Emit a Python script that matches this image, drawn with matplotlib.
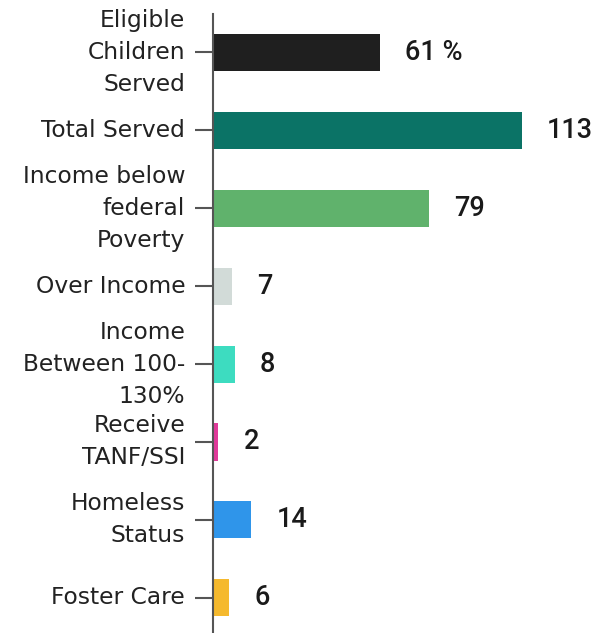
import matplotlib
matplotlib.use("Agg")
import matplotlib.pyplot as plt

categories = ["Eligible\nChildren\nServed", "Total Served", "Income below\nfederal\nPoverty",
              "Over Income", "Income\nBetween 100-\n130%", "Receive\nTANF/SSI",
              "Homeless\nStatus", "Foster Care"]
values = [61, 113, 79, 7, 8, 2, 14, 6]
value_labels = ["61 %", "113", "79", "7", "8", "2", "14", "6"]
colors = ["#1f1f1f", "#0b7366", "#60b26c", "#d2dbd8", "#3ddcc0", "#e03a9a", "#2f95ea", "#f5b92e"]

fig = plt.figure(figsize=(6.05, 6.33), dpi=100)
ax = fig.add_axes([213/605, 0, 1 - 213/605, 1 - 14/633])
ypos = list(range(len(categories)))
ax.barh(ypos, values, height=0.475, color=colors)
ax.set_ylim(7.45, -0.49)
ax.set_xlim(0, (605-213)/2.735)
ax.set_yticks(ypos)
ax.set_yticklabels(categories, fontsize=16.8, color="#222222", family=["DejaVu Sans"],
                   linespacing=1.5)
for t in ax.get_yticklabels():
    t.set_horizontalalignment("right")
    t.set_verticalalignment("center")
ax.tick_params(axis="y", length=13, width=1.5, color="#555555", pad=7)
ax.set_xticks([])
for s in ["top", "right", "bottom"]:
    ax.spines[s].set_visible(False)
ax.spines["left"].set_color("#555555")
ax.spines["left"].set_linewidth(1.5)
for y, v, lab in zip(ypos, values, value_labels):
    ax.annotate(lab, (v, y), xytext=(25, 0), textcoords="offset pixels",
                va="center", ha="left", fontsize=19.5, fontweight="medium", color="#1a1a1a",
                family=["Roboto", "DejaVu Sans"])
fig.savefig("out.png", dpi=100)
